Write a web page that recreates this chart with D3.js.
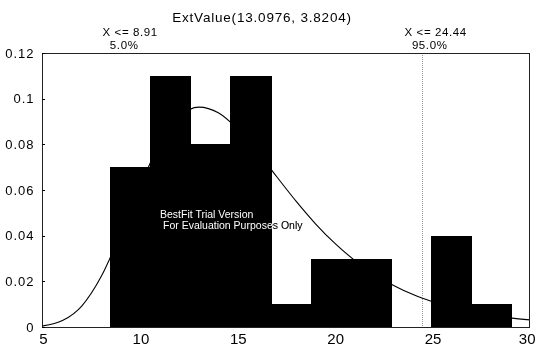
<!DOCTYPE html>
<html><head><meta charset="utf-8">
<script src="https://cdn.jsdelivr.net/npm/d3@7"></script>
<style>
html,body{margin:0;padding:0;background:#fff;}
svg{display:block;background:#fff;}
text{font-family:"Liberation Sans Narrow","Liberation Sans",Arial,sans-serif;}
</style></head>
<body><svg id="c" width="536" height="349"></svg>
<script>
// ---- data ----
const titleText = "ExtValue(13.0976, 3.8204)";
const binEdges = [8.44, 10.5, 12.56, 14.62, 16.68, 18.74, 20.8, 22.86, 24.92, 26.98, 29.04];
const binValues = [0.07, 0.11, 0.08, 0.11, 0.01, 0.03, 0.03, 0.0, 0.04, 0.01];
const curveX = [5,6,7,8,9,10,11,12,13,14,15,16,17,18,19,20,21,22,23,24,25,26,27,28,29,30];
const curveY = [0.0005,0.0028,0.0093,0.0223,0.0412,0.0621,0.0802,0.0920,0.0963,0.0938,0.0866,0.0767,0.0658,0.0550,0.0451,0.0365,0.0292,0.0231,0.0182,0.0142,0.0111,0.0086,0.0067,0.0052,0.0040,0.0031];
const pctValues = [8.91, 24.44];
const pctLabels = ["5.0%", "95.0%"];
const xTicks = [5, 10, 15, 20, 25, 30];
const yTicks = [0, 0.02, 0.04, 0.06, 0.08, 0.1, 0.12];
const yTickLabels = ["0", "0.02", "0.04", "0.06", "0.08", "0.1", "0.12"];
const watermark = ["BestFit Trial Version", "For Evaluation Purposes Only"];

// ---- drawing ----
const svg = d3.select("#c");
const x = d3.scaleLinear().domain([5, 30]).range([43, 530]);
const y = d3.scaleLinear().domain([0, 0.12]).range([327, 53]);

// fitted curve
const line = d3.line().x((d, i) => x(curveX[i])).y(d => y(d)).curve(d3.curveMonotoneX);
svg.append("path").datum(curveY).attr("d", line)
  .attr("fill", "none").attr("stroke", "#000").attr("stroke-width", 1.1);

// histogram bars
svg.selectAll("rect.bar").data(binValues).join("rect").attr("class", "bar")
  .attr("x", (d, i) => Math.round(x(binEdges[i])))
  .attr("width", (d, i) => Math.round(x(binEdges[i + 1])) - Math.round(x(binEdges[i])) + 0.5)
  .attr("y", d => Math.round(y(d)))
  .attr("height", d => Math.round(y(0)) - Math.round(y(d)))
  .attr("fill", "#000").attr("shape-rendering", "crispEdges");

// percentile marker (upper)
svg.append("line")
  .attr("x1", Math.round(x(pctValues[1])) + 0.5).attr("x2", Math.round(x(pctValues[1])) + 0.5)
  .attr("y1", y(0.12)).attr("y2", y(0))
  .attr("stroke", "#999").attr("stroke-width", 1).attr("stroke-dasharray", "1,1");

// frame
const fr = svg.append("g").attr("stroke", "#222").attr("shape-rendering", "crispEdges");
fr.append("line").attr("x1", x(5) - 1).attr("x2", x(30)).attr("y1", y(0.12) + 0.5).attr("y2", y(0.12) + 0.5);
fr.append("line").attr("x1", x(30) - 0.5).attr("x2", x(30) - 0.5).attr("y1", y(0.12)).attr("y2", y(0));
fr.append("line").attr("x1", x(5) - 1).attr("x2", x(30)).attr("y1", y(0) + 0.5).attr("y2", y(0) + 0.5);

// y axis
const yAxis = d3.axisLeft(y).tickValues(yTicks).tickSize(-3).tickPadding(7)
  .tickFormat((d, i) => yTickLabels[i]);
const gy = svg.append("g").attr("transform", `translate(${x(5) - 1.5},0)`).call(yAxis);
gy.select(".domain").attr("stroke", "#222").attr("shape-rendering", "crispEdges");
gy.selectAll(".tick line").attr("shape-rendering", "crispEdges");
gy.selectAll("text").attr("font-size", 13).attr("letter-spacing", 1).attr("fill", "#000");

// x axis
const xAxis = d3.axisBottom(x).tickValues(xTicks).tickSize(0).tickPadding(6).tickFormat(d3.format("d"));
const gx = svg.append("g").attr("transform", `translate(0,${y(0)})`).call(xAxis);
gx.select(".domain").remove();
gx.selectAll("text").attr("font-size", 15).attr("fill", "#000");
// keep the last label inside the window
gx.selectAll("text").filter(d => d === xTicks[xTicks.length - 1])
  .attr("text-anchor", "end").attr("dx", 535 - x(xTicks[xTicks.length - 1]));

// title
svg.append("text").attr("x", 262).attr("y", 22).attr("text-anchor", "middle")
  .attr("font-size", 13.5).attr("letter-spacing", 0.8).text(titleText);

// percentile labels
pctValues.forEach((v, i) => {
  const cx = x(v) + (i === 0 ? 11 : 14);
  svg.append("text").attr("x", cx).attr("y", 35.5).attr("text-anchor", "middle")
    .attr("font-size", 11.5).attr("letter-spacing", 0.6).text("X <= " + d3.format(".2f")(v));
  svg.append("text").attr("x", cx - 6).attr("y", 49).attr("text-anchor", "middle")
    .attr("font-size", 11.5).attr("letter-spacing", 0.6).text(pctLabels[i]);
});

// watermark (inverted text)
svg.append("text").attr("x", 160).attr("y", 218).attr("font-size", 10.5)
  .attr("fill", "#fff").style("mix-blend-mode", "difference").text(watermark[0]);
svg.append("text").attr("x", 163).attr("y", 229).attr("font-size", 10.5)
  .attr("fill", "#fff").style("mix-blend-mode", "difference").text(watermark[1]);
</script></body></html>
